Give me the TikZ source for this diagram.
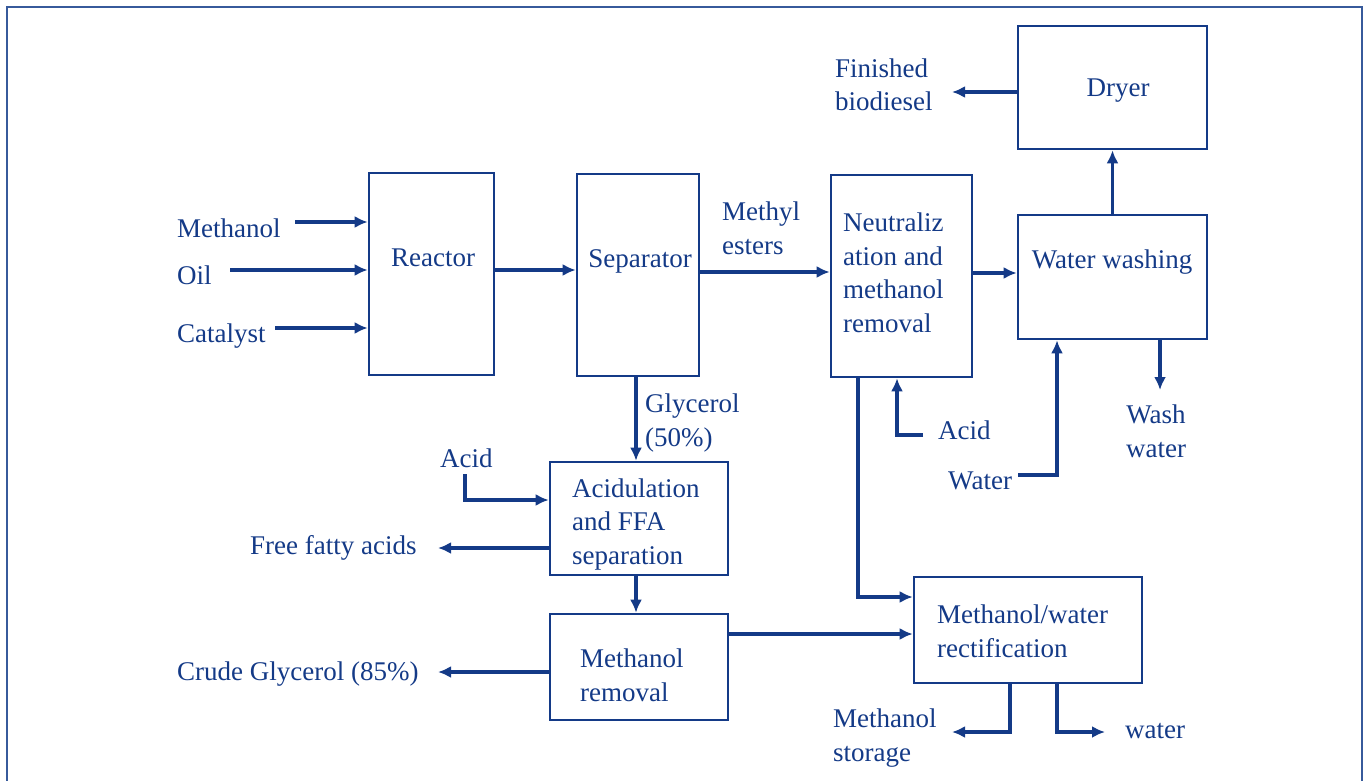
\documentclass[tikz,border=0pt]{standalone}
\usepackage{fontspec}
\setmainfont{Liberation Serif}
\usetikzlibrary{arrows.meta}
\definecolor{navy}{RGB}{20,58,135}
\definecolor{framecol}{RGB}{55,90,155}
\begin{document}
\begin{tikzpicture}[x=1pt,y=-1pt,
  box/.style={draw=navy,line width=2.6pt,inner sep=0pt},
  txt/.style={text=navy,font=\fontsize{27}{33.5}\selectfont,inner sep=0pt,align=left},
  ctxt/.style={text=navy,font=\fontsize{27}{33.5}\selectfont,inner sep=0pt,align=center},
  arr/.style={draw=navy,line width=3.2pt,-{Latex[length=13pt,width=12pt]}},
  frame/.style={draw=framecol,line width=1.6pt}]
\useasboundingbox (0,0) rectangle (1367,781);
\draw[frame] (7,781) -- (7,7) -- (1362,7) -- (1362,781);

% boxes
\node[box,minimum width=125pt,minimum height=202pt] (reactor) at (431.5,274) {};
\node[box,minimum width=122pt,minimum height=202pt] (separator) at (638,275) {};
\node[box,minimum width=141pt,minimum height=202pt] (neutr) at (901.5,276) {};
\node[box,minimum width=189pt,minimum height=123pt] (dryer) at (1112.5,87.5) {};
\node[box,minimum width=189pt,minimum height=124pt] (wash) at (1112.5,277) {};
\node[box,minimum width=178pt,minimum height=113pt] (acidul) at (639,518.5) {};
\node[box,minimum width=178pt,minimum height=106pt] (mrem) at (639,667) {};
\node[box,minimum width=228pt,minimum height=106pt] (rect) at (1028,630) {};

% box texts (multi-line nodes: anchor at the last line's baseline)
\node[ctxt,anchor=base] (reactortxt) at (433,266) {Reactor};
\node[ctxt,anchor=base] (separatortxt) at (640,267) {Separator};
\node[txt,anchor=base west] (neutrtxt) at (843,332) {Neutraliz\\ation and\\methanol\\removal};
\node[ctxt,anchor=base] (dryertxt) at (1118,97) {Dryer};
\node[ctxt,anchor=base] (washtxt) at (1112,268) {Water washing};
\node[txt,anchor=base west] (acidultxt) at (572,564) {Acidulation\\and FFA\\separation};
\node[txt,anchor=base west] (mremtxt) at (580,701) {Methanol\\removal};
\node[txt,anchor=base west] (recttxt) at (937,657) {Methanol/water\\rectification};

% stream labels
\node[txt,anchor=base west] (lmeth) at (177,237) {Methanol};
\node[txt,anchor=base west] (loil) at (177,284) {Oil};
\node[txt,anchor=base west] (lcat) at (177,342) {Catalyst};
\node[txt,anchor=base west] (lme) at (722,254) {Methyl\\esters};
\node[txt,anchor=base west] (lfin) at (835,111) {Finished\\biodiesel};
\node[ctxt,anchor=base] (lww) at (1156,457) {Wash\\water};
\node[txt,anchor=base west] (lacid1) at (938,439) {Acid};
\node[txt,anchor=base west] (lwater) at (948,489) {Water};
\node[txt,anchor=base west] (lgly) at (645,446) {Glycerol\\(50\%)};
\node[txt,anchor=base west] (lacid2) at (440,467) {Acid};
\node[txt,anchor=base west] (lffa) at (250,554) {Free fatty acids};
\node[txt,anchor=base west] (lcrude) at (177,680) {Crude Glycerol (85\%)};
\node[txt,anchor=base west] (lms) at (833,761) {Methanol\\storage};
\node[txt,anchor=base west] (lwat) at (1125,738) {water};

% connector end points
\coordinate (mIn) at (295,222);
\coordinate (oIn) at (230,270);
\coordinate (cIn) at (275,328);
\coordinate (finTip) at (952,92);
\coordinate (wwTip) at (1160,390);
\coordinate (wStart) at (1018,475);
\coordinate (wCorner) at (1057,475);
\coordinate (aStart) at (923,435);
\coordinate (aCorner) at (897,435);
\coordinate (nCorner) at (858,597);
\coordinate (acStart) at (465,474);
\coordinate (acCorner) at (465,500);
\coordinate (ffaTip) at (438,548);
\coordinate (crTip) at (438,672);
\coordinate (msCorner) at (1010,732);
\coordinate (msTip) at (952,732);
\coordinate (wtCorner) at (1057,732);
\coordinate (wtTip) at (1105,732);

% connectors
\draw[arr] (mIn) -- (mIn -| reactor.west);
\draw[arr] (oIn) -- (oIn -| reactor.west);
\draw[arr] (cIn) -- (cIn -| reactor.west);
\draw[arr] (oIn -| reactor.east) -- (oIn -| separator.west);
\draw[arr] ([yshift=3pt]separator.east) -- ([yshift=3pt]separator.east -| neutr.west);
\draw[arr] ([yshift=4pt]wash.west -| neutr.east) -- ([yshift=4pt]wash.west);
\draw[arr] (wash.north) -- (dryer.south);
\draw[arr] (dryer.west |- finTip) -- (finTip);
\draw[arr] (wwTip |- wash.south) -- (wwTip);
\draw[arr] (wStart) -- (wCorner) -- (wCorner |- wash.south);
\draw[arr] (aStart) -- (aCorner) -- (aCorner |- neutr.south);
\draw[arr] (nCorner |- neutr.south) -- (nCorner) -- (nCorner -| rect.west);
\draw[arr] ([xshift=-2pt]separator.south) -- ([xshift=-2pt]separator.south |- acidul.north);
\draw[arr] (acStart) -- (acCorner) -- (acCorner -| acidul.west);
\draw[arr] (ffaTip -| acidul.west) -- (ffaTip);
\draw[arr] ([xshift=-3pt]acidul.south) -- ([xshift=-3pt]mrem.north);
\draw[arr] ([yshift=33pt]mrem.east) -- ([yshift=33pt]mrem.east -| rect.west);
\draw[arr] (crTip -| mrem.west) -- (crTip);
\draw[arr] (msCorner |- rect.south) -- (msCorner) -- (msTip);
\draw[arr] (wtCorner |- rect.south) -- (wtCorner) -- (wtTip);
\end{tikzpicture}
\end{document}
